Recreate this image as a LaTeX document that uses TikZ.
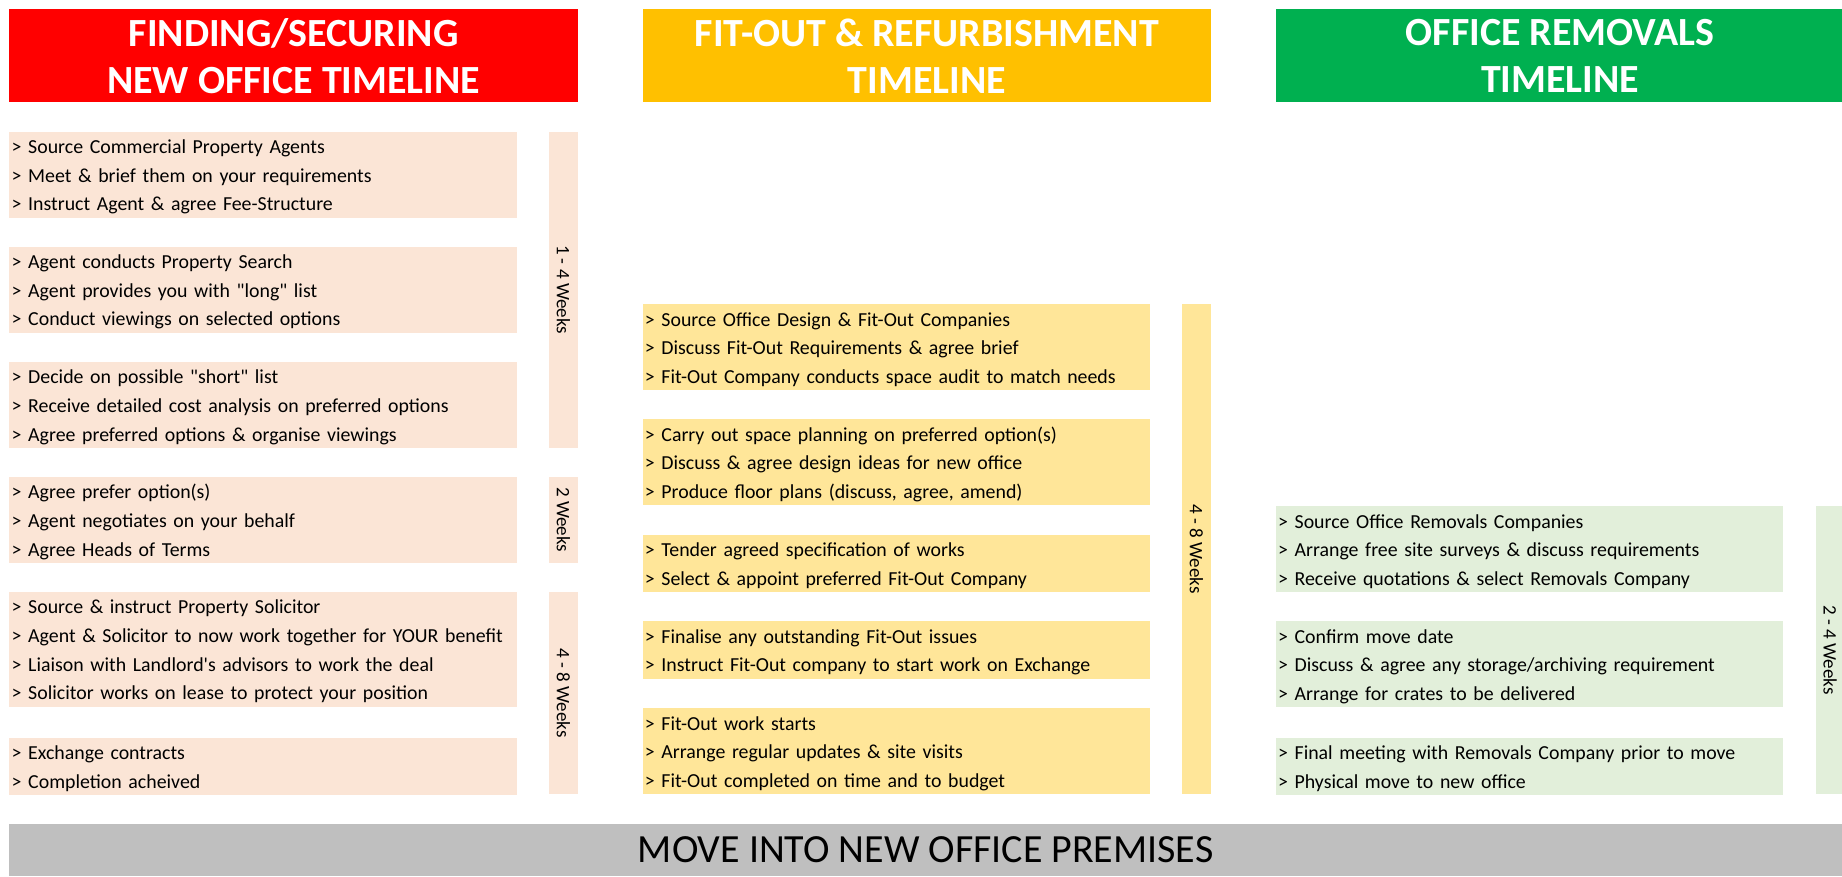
\documentclass[tikz,border=0pt]{standalone}
\usepackage{fontspec}
\setmainfont{Carlito}
\usepackage{xcolor}
\definecolor{findred}{HTML}{FF0000}
\definecolor{fitgold}{HTML}{FFC000}
\definecolor{movegreen}{HTML}{00B050}
\definecolor{findpeach}{HTML}{FBE5D6}
\definecolor{fitsand}{HTML}{FFE699}
\definecolor{movemint}{HTML}{E2EFDA}
\definecolor{finalgrey}{HTML}{BFBFBF}
\newcommand{\rw}{\rule[-5.8pt]{0pt}{24.4pt}}

\begin{document}
\begin{tikzpicture}[x=1pt, y=-1pt,
			every node/.style={inner sep=0pt, outer sep=0pt},
			header/.style={anchor=north west, minimum width=484pt, minimum height=79pt, text=white, align=center, font=\fontsize{34}{40}\selectfont\bfseries},
			task/.style={anchor=north west, text width=428pt, inner xsep=2pt, align=left, font=\fontsize{16.9}{24.4}\selectfont},
			weeks/.style={rotate=-90, minimum height=25pt, font=\fontsize{16.2}{20}\selectfont}]
			
			\useasboundingbox (0,0) rectangle (1568,746);
			
			% headers
			\node[header, fill=findred] (findhead) at (8,8) {FINDING/SECURING\\NEW OFFICE TIMELINE};
			\node[header, fill=fitgold] (fithead) at (547,8) {FIT-OUT \& REFURBISHMENT\\TIMELINE};
			\node[header, fill=movegreen] (movehead) at (1086,8) {OFFICE REMOVALS\\TIMELINE};
			
			% finding / securing
			\node[task, fill=findpeach] (find1) at (8,112) {\rw> Source Commercial Property Agents\\\rw> Meet \& brief them on your requirements\\\rw> Instruct Agent \& agree Fee-Structure};
			\node[task, fill=findpeach] (find2) at (8,210) {\rw> Agent conducts Property Search\\\rw> Agent provides you with \textquotedbl long\textquotedbl{} list\\\rw> Conduct viewings on selected options};
			\node[task, fill=findpeach] (find3) at (8,308) {\rw> Decide on possible \textquotedbl short\textquotedbl{} list\\\rw> Receive detailed cost analysis on preferred options\\\rw> Agree preferred options \& organise viewings};
			\node[task, fill=findpeach] (find4) at (8,406) {\rw> Agree prefer option(s)\\\rw> Agent negotiates on your behalf\\\rw> Agree Heads of Terms};
			\node[task, fill=findpeach] (find5) at (8,504) {\rw> Source \& instruct Property Solicitor\\\rw> Agent \& Solicitor to now work together for YOUR benefit\\\rw> Liaison with Landlord\textquotesingle s advisors to work the deal\\\rw> Solicitor works on lease to protect your position};
			\node[task, fill=findpeach] (find6) at (8,628) {\rw> Exchange contracts\\\rw> Completion acheived};
			\node[weeks, fill=findpeach, minimum width=269pt] (findwk1) at (479.5,246.5) {1 - 4 Weeks};
			\node[weeks, fill=findpeach, minimum width=73pt] (findwk2) at (479.5,442.5) {2 Weeks};
			\node[weeks, fill=findpeach, minimum width=172pt] (findwk3) at (479.5,590) {4 - 8 Weeks};
			
			% fit-out
			\node[task, fill=fitsand] (fit1) at (547,259) {\rw> Source Office Design \& Fit-Out Companies\\\rw> Discuss Fit-Out Requirements \& agree brief\\\rw> Fit-Out Company conducts space audit to match needs};
			\node[task, fill=fitsand] (fit2) at (547,357) {\rw> Carry out space planning on preferred option(s)\\\rw> Discuss \& agree design ideas for new office\\\rw> Produce floor plans (discuss, agree, amend)};
			\node[task, fill=fitsand] (fit3) at (547,455) {\rw> Tender agreed specification of works\\\rw> Select \& appoint preferred Fit-Out Company};
			\node[task, fill=fitsand] (fit4) at (547,529) {\rw> Finalise any outstanding Fit-Out issues\\\rw> Instruct Fit-Out company to start work on Exchange};
			\node[task, fill=fitsand] (fit5) at (547,603) {\rw> Fit-Out work starts\\\rw> Arrange regular updates \& site visits\\\rw> Fit-Out completed on time and to budget};
			\node[weeks, fill=fitsand, minimum width=417pt] (fitwk) at (1018.5,467.5) {4 - 8 Weeks};
			
			% removals
			\node[task, fill=movemint] (move1) at (1086,431) {\rw> Source Office Removals Companies\\\rw> Arrange free site surveys \& discuss requirements\\\rw> Receive quotations \& select Removals Company};
			\node[task, fill=movemint] (move2) at (1086,529) {\rw> Confirm move date\\\rw> Discuss \& agree any storage/archiving requirement\\\rw> Arrange for crates to be delivered};
			\node[task, fill=movemint] (move3) at (1086,628) {\rw> Final meeting with Removals Company prior to move\\\rw> Physical move to new office};
			\node[weeks, fill=movemint, minimum width=245pt] (movewk) at (1558,553.5) {2 - 4 Weeks};
			
			% final step
			\node[anchor=north west, fill=finalgrey, minimum width=1560pt, minimum height=45pt, font=\fontsize{34}{38}\selectfont] (premises) at (8,701) {MOVE INTO NEW OFFICE PREMISES};
		\end{tikzpicture}
\end{document}
